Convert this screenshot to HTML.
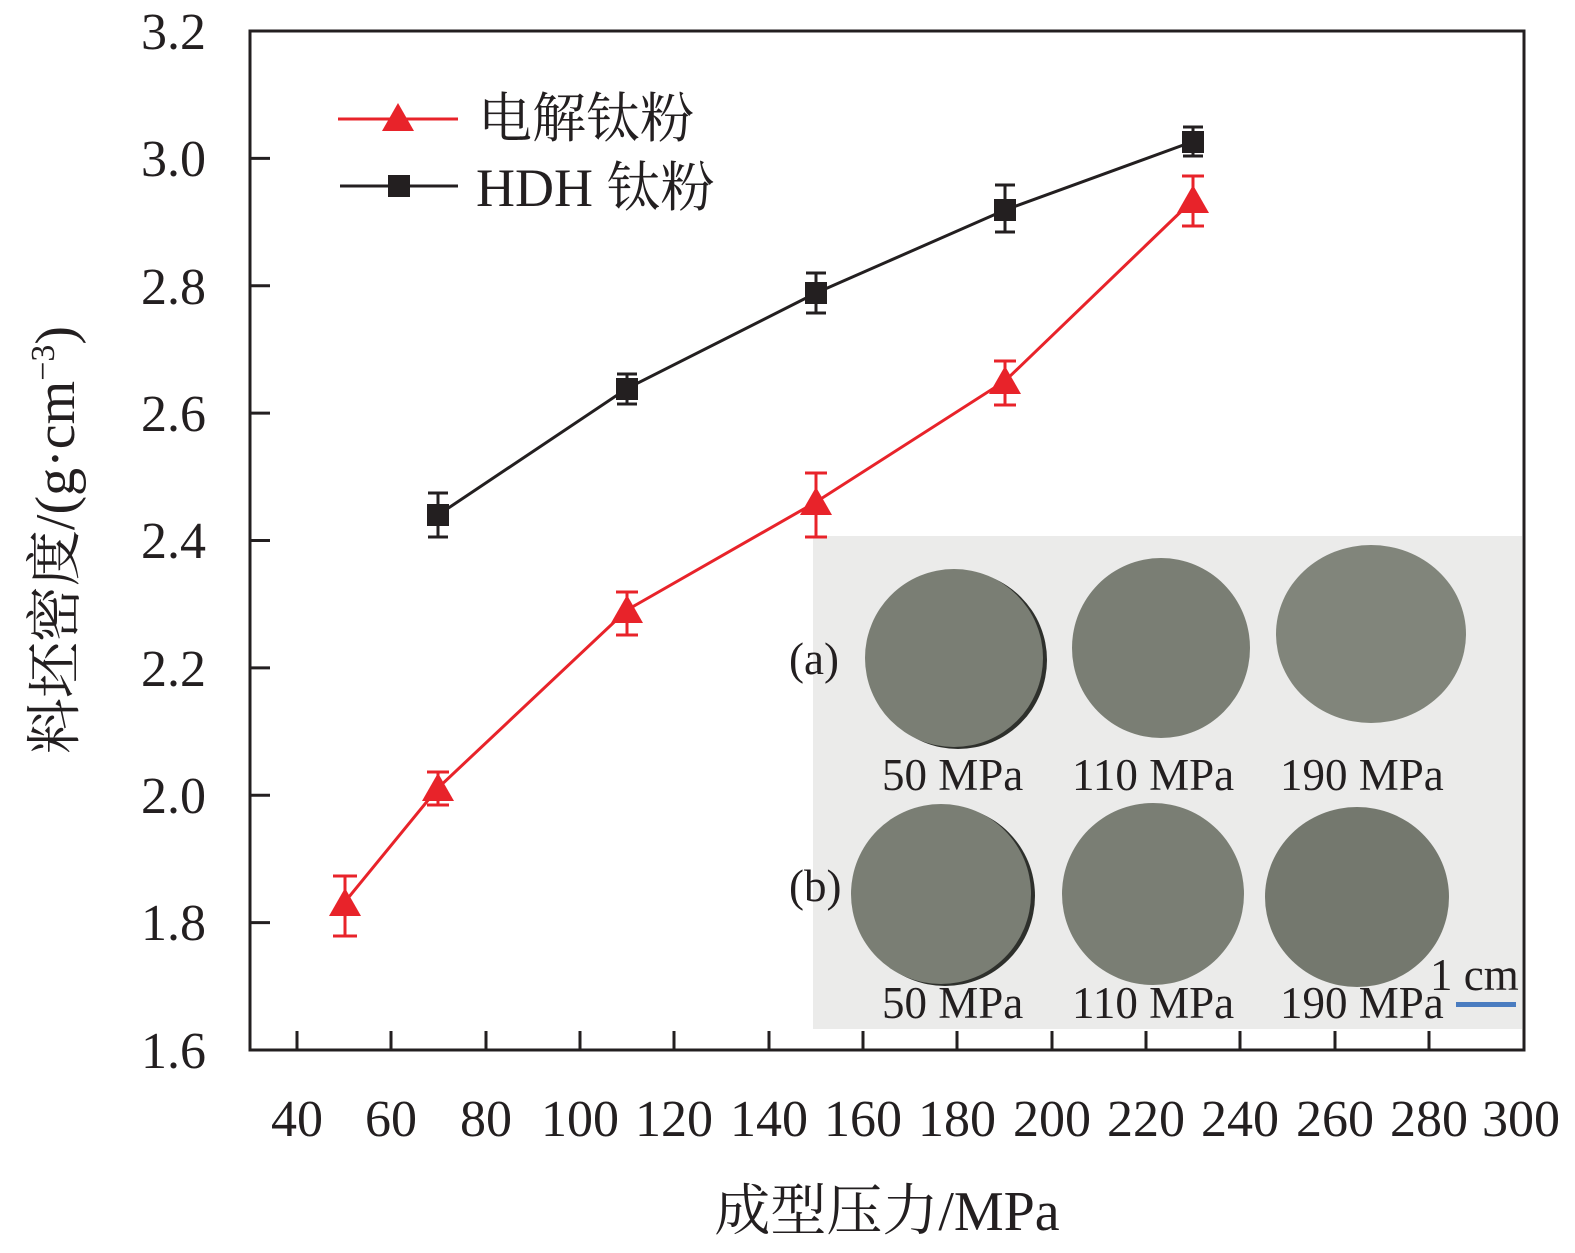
<!DOCTYPE html>
<html><head><meta charset="utf-8"><style>
html,body{margin:0;padding:0;background:#fff;}
svg{display:block;}
text{font-family:"Liberation Serif","Noto Serif CJK SC",serif;fill:#231f20;}
</style></head><body>
<svg width="1575" height="1253" viewBox="0 0 1575 1253" xmlns="http://www.w3.org/2000/svg">
<!-- inset photo -->
<rect x="813" y="536" width="709" height="493" fill="#ebebea"/>
<g fill="#7a7e74">
<ellipse cx="958" cy="660" rx="89" ry="89" fill="#2e302c"/>
<ellipse cx="954" cy="658" rx="89" ry="89"/>
<ellipse cx="1161" cy="648" rx="89" ry="90"/>
<ellipse cx="1371" cy="634" rx="95" ry="89" fill="#81857b"/>
<ellipse cx="945" cy="896" rx="90" ry="90" fill="#2e302c"/>
<ellipse cx="941" cy="894" rx="90" ry="90"/>
<ellipse cx="1153" cy="894" rx="91" ry="91"/>
<ellipse cx="1357" cy="897" rx="92" ry="90" fill="#74786e"/>
</g>
<g font-size="45">
<text x="789" y="674">(a)</text>
<text x="789" y="901">(b)</text>
<text x="882" y="790">50 MPa</text>
<text x="1072" y="790">110 MPa</text>
<text x="1280" y="790">190 MPa</text>
<text x="882" y="1018">50 MPa</text>
<text x="1072" y="1018">110 MPa</text>
<text x="1280" y="1018">190 MPa</text>
<text x="1430" y="990">1 cm</text>
</g>
<rect x="1456" y="1002" width="60" height="5" fill="#4a7cc0"/>
<!-- axes -->
<rect x="250" y="31" width="1274" height="1019" fill="none" stroke="#231f20" stroke-width="3"/>
<g stroke="#231f20" stroke-width="3">
<line x1="250" y1="158.4" x2="270" y2="158.4"/><line x1="250" y1="285.8" x2="270" y2="285.8"/>
<line x1="250" y1="413.1" x2="270" y2="413.1"/><line x1="250" y1="540.5" x2="270" y2="540.5"/>
<line x1="250" y1="667.9" x2="270" y2="667.9"/><line x1="250" y1="795.2" x2="270" y2="795.2"/>
<line x1="250" y1="922.6" x2="270" y2="922.6"/>
<line x1="297" y1="1050" x2="297" y2="1031"/><line x1="391" y1="1050" x2="391" y2="1031"/>
<line x1="486" y1="1050" x2="486" y2="1031"/><line x1="580" y1="1050" x2="580" y2="1031"/>
<line x1="674" y1="1050" x2="674" y2="1031"/><line x1="769" y1="1050" x2="769" y2="1031"/>
<line x1="863" y1="1050" x2="863" y2="1031"/><line x1="957" y1="1050" x2="957" y2="1031"/>
<line x1="1052" y1="1050" x2="1052" y2="1031"/><line x1="1146" y1="1050" x2="1146" y2="1031"/>
<line x1="1240" y1="1050" x2="1240" y2="1031"/><line x1="1335" y1="1050" x2="1335" y2="1031"/>
<line x1="1429" y1="1050" x2="1429" y2="1031"/>
</g>
<g font-size="52" text-anchor="end">
<text x="206" y="49">3.2</text><text x="206" y="176">3.0</text><text x="206" y="304">2.8</text>
<text x="206" y="431">2.6</text><text x="206" y="558">2.4</text><text x="206" y="686">2.2</text>
<text x="206" y="813">2.0</text><text x="206" y="940">1.8</text><text x="206" y="1068">1.6</text>
</g>
<g font-size="52" text-anchor="middle">
<text x="297" y="1136">40</text><text x="391" y="1136">60</text><text x="486" y="1136">80</text>
<text x="580" y="1136">100</text><text x="674" y="1136">120</text><text x="769" y="1136">140</text>
<text x="863" y="1136">160</text><text x="957" y="1136">180</text><text x="1052" y="1136">200</text>
<text x="1146" y="1136">220</text><text x="1240" y="1136">240</text><text x="1335" y="1136">260</text>
<text x="1429" y="1136">280</text><text x="1521" y="1136">300</text>
</g>
<text x="887" y="1230" font-size="56" text-anchor="middle">成型压力/MPa</text>
<text transform="translate(74,540) rotate(-90)" font-size="56" text-anchor="middle">料坯密度/(g·cm<tspan dy="-20" font-size="34">−3</tspan><tspan dy="20">)</tspan></text>
<!-- black series -->
<polyline points="438,515 627,388.5 816,293 1005,210 1193,141.5" fill="none" stroke="#231f20" stroke-width="3"/>
<g stroke="#231f20" stroke-width="3">
<line x1="438" y1="493" x2="438" y2="537"/><line x1="428" y1="493" x2="448" y2="493"/><line x1="428" y1="537" x2="448" y2="537"/>
<line x1="627" y1="374" x2="627" y2="404"/><line x1="617" y1="374" x2="637" y2="374"/><line x1="617" y1="404" x2="637" y2="404"/>
<line x1="816" y1="273" x2="816" y2="313"/><line x1="806" y1="273" x2="826" y2="273"/><line x1="806" y1="313" x2="826" y2="313"/>
<line x1="1005" y1="185" x2="1005" y2="232"/><line x1="995" y1="185" x2="1015" y2="185"/><line x1="995" y1="232" x2="1015" y2="232"/>
<line x1="1193" y1="127" x2="1193" y2="156"/><line x1="1183" y1="127" x2="1203" y2="127"/><line x1="1183" y1="156" x2="1203" y2="156"/>
</g>
<g fill="#231f20">
<rect x="427" y="504" width="22" height="22"/><rect x="616" y="378" width="22" height="22"/>
<rect x="805" y="282" width="22" height="22"/><rect x="994" y="199" width="22" height="22"/>
<rect x="1182" y="131" width="22" height="22"/>
</g>
<!-- red series -->
<polyline points="344,903 438,788 627,610 816,502 1005,381 1193,200" fill="none" stroke="#e8232a" stroke-width="3"/>
<g stroke="#e8232a" stroke-width="3">
<line x1="345" y1="876" x2="345" y2="936"/><line x1="333" y1="876" x2="357" y2="876"/><line x1="333" y1="936" x2="357" y2="936"/>
<line x1="438" y1="772" x2="438" y2="805"/><line x1="427" y1="772" x2="449" y2="772"/><line x1="427" y1="805" x2="449" y2="805"/>
<line x1="627" y1="592" x2="627" y2="635"/><line x1="616" y1="592" x2="638" y2="592"/><line x1="616" y1="635" x2="638" y2="635"/>
<line x1="816" y1="473" x2="816" y2="537"/><line x1="805" y1="473" x2="827" y2="473"/><line x1="805" y1="537" x2="827" y2="537"/>
<line x1="1005" y1="361" x2="1005" y2="405"/><line x1="994" y1="361" x2="1016" y2="361"/><line x1="994" y1="405" x2="1016" y2="405"/>
<line x1="1193" y1="176" x2="1193" y2="226"/><line x1="1182" y1="176" x2="1204" y2="176"/><line x1="1182" y1="226" x2="1204" y2="226"/>
</g>
<g fill="#e8232a">
<polygon points="345,888 329,916 361,916"/><polygon points="438,773 422,801 454,801"/>
<polygon points="627,595 611,623 643,623"/><polygon points="816,487 800,515 832,515"/>
<polygon points="1005,366 989,394 1021,394"/><polygon points="1193,185 1177,213 1209,213"/>
</g>
<!-- legend -->
<line x1="338" y1="119" x2="458" y2="119" stroke="#e8232a" stroke-width="3"/>
<polygon points="398,103 382,131 414,131" fill="#e8232a"/>
<text x="478" y="137" font-size="54">电解钛粉</text>
<line x1="340" y1="186" x2="458" y2="186" stroke="#231f20" stroke-width="3"/>
<rect x="388" y="175" width="22" height="22" fill="#231f20"/>
<text x="476" y="206" font-size="54">HDH 钛粉</text>
</svg>
</body></html>
